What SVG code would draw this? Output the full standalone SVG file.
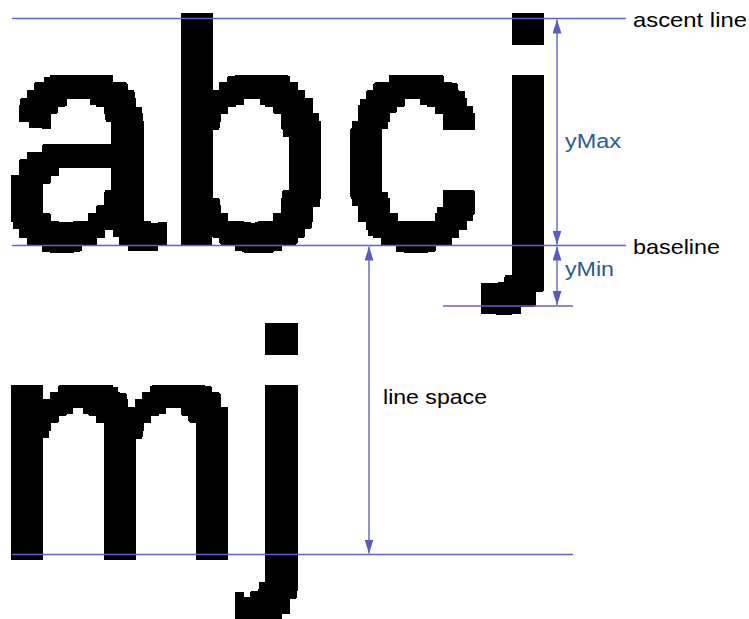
<svg xmlns="http://www.w3.org/2000/svg" width="749" height="619" viewBox="0 0 749 619">
  <style>
    .glyph { font-family: "Liberation Sans", Arial, sans-serif; font-size: 313px; fill: #000; }
    .guide { stroke: #6262c8; stroke-width: 1.4; fill: none; }
    .dim { stroke: #6262c8; stroke-width: 1.4; fill: none; marker-start: url(#ah); marker-end: url(#ah); }
    .lbl { font-family: "Liberation Sans", Arial, sans-serif; font-size: 21px; fill: #000; }
    .lblb { font-family: "Liberation Sans", Arial, sans-serif; font-size: 20px; fill: #2a5a94; }
  </style>
  <defs>
    <marker id="ah" markerUnits="userSpaceOnUse" markerWidth="14" markerHeight="9" refX="14" refY="4.5" orient="auto-start-reverse" viewBox="0 0 14 9">
      <path d="M0,0 L14,4.5 L0,9 Z" fill="#5a5ac8"/>
    </marker>
    <filter id="pix" filterUnits="userSpaceOnUse" primitiveUnits="userSpaceOnUse" x="0" y="0" width="749" height="330" color-interpolation-filters="sRGB">
      <feMorphology in="SourceGraphic" operator="dilate" radius="1.5" x="0" y="0" width="749" height="330" result="thick"/>
      <feFlood flood-color="#000" x="14.85" y="16.85" width="2" height="2" result="p0"/>
      <feFlood flood-color="#000" x="22.55" y="16.85" width="2" height="2" result="p1"/>
      <feFlood flood-color="#000" x="30.25" y="16.85" width="2" height="2" result="p2"/>
      <feFlood flood-color="#000" x="37.95" y="16.85" width="2" height="2" result="p3"/>
      <feFlood flood-color="#000" x="45.65" y="16.85" width="2" height="2" result="p4"/>
      <feFlood flood-color="#000" x="53.35" y="16.85" width="2" height="2" result="p5"/>
      <feFlood flood-color="#000" x="61.05" y="16.85" width="2" height="2" result="p6"/>
      <feFlood flood-color="#000" x="68.75" y="16.85" width="2" height="2" result="p7"/>
      <feFlood flood-color="#000" x="76.45" y="16.85" width="2" height="2" result="p8"/>
      <feFlood flood-color="#000" x="84.15" y="16.85" width="2" height="2" result="p9"/>
      <feMerge x="12" y="14" width="77" height="77" result="row">
        <feMergeNode in="p0"/><feMergeNode in="p1"/><feMergeNode in="p2"/><feMergeNode in="p3"/><feMergeNode in="p4"/>
        <feMergeNode in="p5"/><feMergeNode in="p6"/><feMergeNode in="p7"/><feMergeNode in="p8"/><feMergeNode in="p9"/>
      </feMerge>
      <feOffset in="row" dx="0" dy="0" x="12" y="14" width="77" height="77" result="o0"/>
      <feOffset in="row" dx="0" dy="7.7" x="12" y="14" width="77" height="77" result="o1"/>
      <feOffset in="row" dx="0" dy="15.4" x="12" y="14" width="77" height="77" result="o2"/>
      <feOffset in="row" dx="0" dy="23.1" x="12" y="14" width="77" height="77" result="o3"/>
      <feOffset in="row" dx="0" dy="30.8" x="12" y="14" width="77" height="77" result="o4"/>
      <feOffset in="row" dx="0" dy="38.5" x="12" y="14" width="77" height="77" result="o5"/>
      <feOffset in="row" dx="0" dy="46.2" x="12" y="14" width="77" height="77" result="o6"/>
      <feOffset in="row" dx="0" dy="53.9" x="12" y="14" width="77" height="77" result="o7"/>
      <feOffset in="row" dx="0" dy="61.6" x="12" y="14" width="77" height="77" result="o8"/>
      <feOffset in="row" dx="0" dy="69.3" x="12" y="14" width="77" height="77" result="o9"/>
      <feMerge x="12" y="14" width="77" height="77" result="block">
        <feMergeNode in="o0"/><feMergeNode in="o1"/><feMergeNode in="o2"/><feMergeNode in="o3"/><feMergeNode in="o4"/>
        <feMergeNode in="o5"/><feMergeNode in="o6"/><feMergeNode in="o7"/><feMergeNode in="o8"/><feMergeNode in="o9"/>
      </feMerge>
      <feTile in="block" x="0" y="0" width="749" height="330" result="grid"/>
      <feComposite in="thick" in2="grid" operator="in" x="0" y="0" width="749" height="330" result="s"/>
      <feMorphology in="s" operator="dilate" radius="3" x="0" y="0" width="749" height="330" result="d"/>
      <feComponentTransfer in="d" x="0" y="0" width="749" height="330">
        <feFuncA type="discrete" tableValues="0 1"/>
      </feComponentTransfer>
    </filter>
  </defs>

  <g id="line1" filter="url(#pix)">
    <text class="glyph" transform="translate(12,245) scale(0.919,1)" x="-11.3">a</text>
    <text class="glyph" transform="translate(181,245) scale(0.984,1)" x="-20.6">b</text>
    <text class="glyph" transform="translate(352,245) scale(0.888,1)" x="-12.2">c</text>
    <text class="glyph" x="492.4" y="245">j</text>
  </g>

  <g id="line2" transform="translate(0,309.5)">
    <g filter="url(#pix)">
      <text class="glyph" transform="translate(12,245) scale(0.98,1)" x="-20.6">m</text>
      <text class="glyph" x="245.4" y="245">j</text>
    </g>
  </g>

  <g id="connectors">
    <line id="ascent-line" class="guide" x1="12" y1="18.5" x2="626" y2="18.5"/>
    <line id="baseline-line" class="guide" x1="12" y1="245.5" x2="626" y2="245.5"/>
    <line id="descent-line" class="guide" x1="443" y1="306" x2="573" y2="306"/>
    <line id="next-baseline" class="guide" x1="12" y1="554.5" x2="573" y2="554.5"/>
    <line id="ymax-dim" class="dim" x1="557" y1="19.5" x2="557" y2="244.5"/>
    <line id="ymin-dim" class="dim" x1="557" y1="246.5" x2="557" y2="305"/>
    <line id="linespace-dim" class="dim" x1="369" y1="246.5" x2="369" y2="553.5"/>
  </g>

  <g id="labels">
    <g id="label-ascent"><text class="lbl" x="633" y="27" textLength="114" lengthAdjust="spacingAndGlyphs">ascent line</text></g>
    <g id="label-baseline"><text class="lbl" x="633" y="254" textLength="87" lengthAdjust="spacingAndGlyphs">baseline</text></g>
    <g id="label-ymax"><text class="lblb" x="565" y="148" textLength="56" lengthAdjust="spacingAndGlyphs">yMax</text></g>
    <g id="label-ymin"><text class="lblb" x="565" y="276" textLength="49" lengthAdjust="spacingAndGlyphs">yMin</text></g>
    <g id="label-linespace"><text class="lbl" x="383" y="404" textLength="104" lengthAdjust="spacingAndGlyphs">line space</text></g>
  </g>
</svg>
